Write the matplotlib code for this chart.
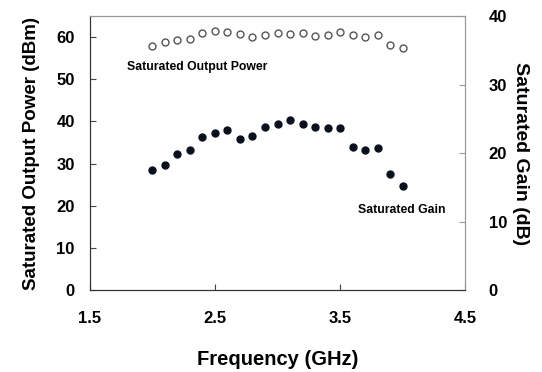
import numpy as np
import matplotlib
matplotlib.use("Agg")
import matplotlib.pyplot as plt

plt.rcParams['font.family'] = ['Liberation Sans', 'DejaVu Sans']
plt.rcParams['font.weight'] = 'bold'

# frequency points (GHz)
freq = [2.0, 2.1, 2.2, 2.3, 2.4, 2.5, 2.6, 2.7, 2.8, 2.9, 3.0,
        3.1, 3.2, 3.3, 3.4, 3.5, 3.6, 3.7, 3.8, 3.9, 4.0]
# saturated output power (dBm), left axis
power = [57.8, 58.8, 59.2, 59.6, 61.0, 61.4, 61.2, 60.8, 60.0, 60.4, 61.0,
         60.8, 61.0, 60.2, 60.4, 61.2, 60.4, 60.0, 60.4, 58.2, 57.4]
# saturated gain (dB), right axis
gain = [17.5, 18.3, 19.8, 20.5, 22.3, 22.9, 23.4, 22.1, 22.5, 23.8, 24.2,
        24.8, 24.2, 23.8, 23.6, 23.6, 20.9, 20.4, 20.8, 16.9, 15.2]

xticks = [1.5, 2.5, 3.5, 4.5]

fig = plt.figure(figsize=(5.42, 3.72), dpi=100)
ax = fig.add_axes([0.166, 0.220, 0.692, 0.737])
ax2 = ax.twinx()

ax.plot(freq, power, 'o', mfc='white', mec='#555555', mew=1.0, ms=5)
ax2.plot(freq, gain, 'o', color='#0a0f1e', ms=5)

ax.set_xlim(1.5, 4.5)
ax.set_ylim(0, 65)
ax2.set_ylim(0, 39.7)
ax.set_xticks(xticks)
ax.set_xticklabels([str(t) for t in xticks])
ax.set_yticks(range(0, 61, 10))
ax2.set_yticks(range(0, 41, 10))

ax.tick_params(axis='x', direction='in', length=4, pad=15, labelsize=12, color='#444444')
ax.tick_params(axis='y', direction='in', length=4, pad=11, labelsize=12, color='#444444')
ax2.tick_params(axis='y', direction='in', length=4, pad=17, labelsize=12, color='#999999')

for s in ['left', 'bottom']:
    ax.spines[s].set_color('#333333')
for s in ['top', 'right']:
    ax.spines[s].set_color('#999999')
    ax2.spines[s].set_color('#999999')
ax2.spines['left'].set_color('#333333')
ax2.spines['bottom'].set_color('#333333')

ax.set_xlabel('Frequency (GHz)', fontsize=14.5, fontweight='bold', labelpad=17)
ax.set_ylabel('Saturated Output Power (dBm)', fontsize=13.5, fontweight='bold', labelpad=12)
ax2.set_ylabel('Saturated Gain (dB)', fontsize=14, fontweight='bold', rotation=270, labelpad=16)

ax.text(1.80, 52.9, 'Saturated Output Power', fontsize=8.8, fontweight='bold', va='center')
ax.text(3.64, 18.9, 'Saturated Gain', fontsize=8.8, fontweight='bold', va='center')

fig.savefig('out.png', dpi=100)
